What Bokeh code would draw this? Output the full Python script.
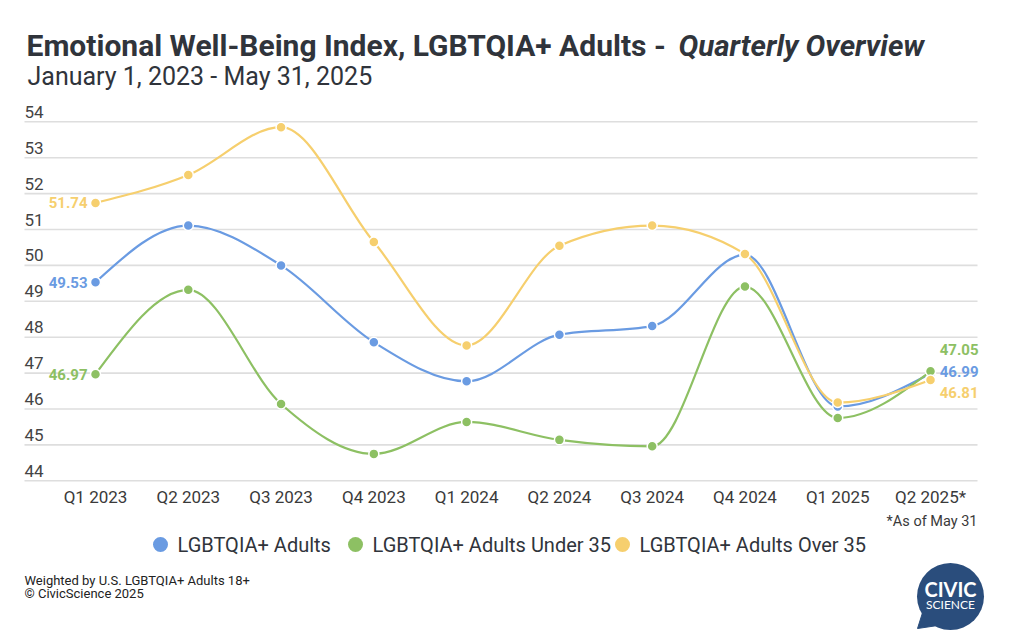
import numpy as np
from bokeh.plotting import figure
from bokeh.models import Range1d
from bokeh.core.properties import value
from bokeh.embed import file_html
from bokeh.resources import INLINE

# ---------------- data ----------------
quarters = ["Q1 2023", "Q2 2023", "Q3 2023", "Q4 2023", "Q1 2024",
            "Q2 2024", "Q3 2024", "Q4 2024", "Q1 2025", "Q2 2025*"]
adults = [49.53, 51.11, 50.00, 47.86, 46.77, 48.07, 48.31, 50.30, 46.07, 46.99]
under35 = [46.97, 49.32, 46.14, 44.75, 45.64, 45.14, 44.96, 49.41, 45.75, 47.05]
over35 = [51.74, 52.52, 53.85, 50.65, 47.77, 50.55, 51.11, 50.32, 46.18, 46.81]
y_ticks = [44, 45, 46, 47, 48, 49, 50, 51, 52, 53, 54]
series_names = ["LGBTQIA+ Adults", "LGBTQIA+ Adults Under 35", "LGBTQIA+ Adults Over 35"]

# ---------------- styles ----------------
BLUE, GREEN, YELLOW = "#6A9BE2", "#8DC063", "#F6CF6E"
TXT = "#30343B"
FONT = value("Roboto")

W, H = 1016, 632
DX = 92.78      # px per quarter
DY = 35.9       # px per index point
X0 = 95         # px of first quarter
Y54 = 121.3     # px of the 54 line


def fx(px):  # canvas px -> data x
    return (px - X0) / DX


def fy(py):  # canvas px -> data y
    return 54 - (py - Y54) / DY


p = figure(width=W, height=H, output_backend="svg", toolbar_location=None,
           x_range=Range1d(fx(0), fx(W)), y_range=Range1d(fy(H), fy(0)),
           x_axis_type=None, y_axis_type=None, min_border=0,
           outline_line_color=None, background_fill_color="white",
           border_fill_color="white")
p.grid.visible = False

xs = np.arange(len(quarters), dtype=float)

# grid lines
p.segment(x0=[fx(24)] * len(y_ticks), x1=[fx(977)] * len(y_ticks),
          y0=y_ticks, y1=y_ticks, line_color="#DEDEDE", line_width=1.6)

# y tick labels (above the grid lines)
p.text(x=[fx(24)] * len(y_ticks), y=y_ticks, text=[str(t) for t in y_ticks],
       text_font=FONT, text_font_size="17px", text_color="#444444",
       text_align="left", text_baseline="middle", y_offset=-10)

# x tick labels
p.text(x=xs, y=[fy(496)] * len(xs), text=quarters, text_font=FONT,
       text_font_size="17px", text_color="#3A3A3A", text_align="center",
       text_baseline="middle")


def monotone(xv, yv):
    xv = np.asarray(xv, float)
    yv = np.asarray(yv, float)
    n = len(xv)
    h = np.diff(xv)
    s = np.diff(yv) / h
    t = np.zeros(n)
    for i in range(1, n - 1):
        h0, h1 = h[i - 1], h[i]
        s0, s1 = s[i - 1], s[i]
        pp = (s0 * h1 + s1 * h0) / (h0 + h1)
        t[i] = (np.sign(s0) + np.sign(s1)) * min(abs(s0), abs(s1), 0.5 * abs(pp))
    t[0] = (3 * s[0] - t[1]) / 2
    t[-1] = (3 * s[-1] - t[-2]) / 2
    return dict(x0=xv[:-1], y0=yv[:-1], x1=xv[1:], y1=yv[1:],
                cx0=xv[:-1] + h / 3, cy0=yv[:-1] + h / 3 * t[:-1],
                cx1=xv[1:] - h / 3, cy1=yv[1:] - h / 3 * t[1:])


series = [(adults, BLUE), (under35, GREEN), (over35, YELLOW)]
for vals, col in series:
    b = monotone(xs, vals)
    p.bezier(line_color=col, line_width=2.2, **b)
    p.scatter(x=xs, y=vals, size=10, fill_color=col, line_color="white",
              line_width=1.5)

# first-point labels
for vals, col in series:
    p.text(x=[xs[0]], y=[vals[0]], text=[f"{vals[0]:.2f}"], text_font=FONT,
           text_font_style="bold", text_font_size="15px", text_color=col,
           text_align="right", text_baseline="middle", x_offset=-8)

# last-point labels
last_offsets = {BLUE: -2, GREEN: -22, YELLOW: 13}
for vals, col in series:
    p.text(x=[xs[-1]], y=[vals[-1]], text=[f"{vals[-1]:.2f}"], text_font=FONT,
           text_font_style="bold", text_font_size="15px", text_color=col,
           text_align="right", text_baseline="middle", x_offset=48,
           y_offset=last_offsets[col])

# title & subtitle
p.text(x=[fx(26)], y=[fy(45)], text=["Emotional Well-Being Index, LGBTQIA+ Adults - "],
       text_font=FONT, text_font_style="bold", text_font_size="30px",
       text_color=TXT, text_baseline="middle")
p.text(x=[fx(678)], y=[fy(45)], text=["Quarterly Overview"],
       text_font=FONT, text_font_style="bold italic", text_font_size="29.5px",
       text_color=TXT, text_baseline="middle")
p.text(x=[fx(27)], y=[fy(76)], text=["January 1, 2023 - May 31, 2025"],
       text_font=FONT, text_font_size="25px", text_color=TXT,
       text_baseline="middle")

# footnote
p.text(x=[fx(977)], y=[fy(521)], text=["*As of May 31"], text_font=FONT,
       text_font_size="14.5px", text_color="#3A3A3A", text_align="right",
       text_baseline="middle")

# legend
leg_x = [160, 355, 622]
for (vals, col), name, lx in zip(series, series_names, leg_x):
    p.scatter(x=[fx(lx)], y=[fy(544)], size=15, fill_color=col, line_color=None)
    p.text(x=[fx(lx + 17)], y=[fy(544)], text=[name], text_font=FONT,
           text_font_size="20px", text_color=TXT, text_baseline="middle")

# source notes
p.text(x=[fx(24), fx(24)], y=[fy(580), fy(593)],
       text=["Weighted by U.S. LGBTQIA+ Adults 18+", "© CivicScience 2025"],
       text_font=FONT, text_font_size="13px", text_color="#222222",
       text_baseline="middle")

# logo
NAVY = "#2A4D7C"
p.patch(x=[fx(924), fx(944), fx(917)], y=[fy(606), fy(624), fy(628)],
        fill_color=NAVY, line_color=NAVY)
p.scatter(x=[fx(950)], y=[fy(596)], size=67, fill_color=NAVY, line_color=None)
p.text(x=[fx(950)], y=[fy(588)], text=["CIVIC"], text_font=value("Lato"),
       text_font_style="bold", text_font_size="20px", text_color="white",
       text_align="center", text_baseline="middle")
p.text(x=[fx(950)], y=[fy(604)], text=["SCIENCE"], text_font=value("Lato"),
       text_font_size="12px", text_color="white", text_align="center",
       text_baseline="middle")

open("out.html", "w").write(file_html(p, INLINE))
